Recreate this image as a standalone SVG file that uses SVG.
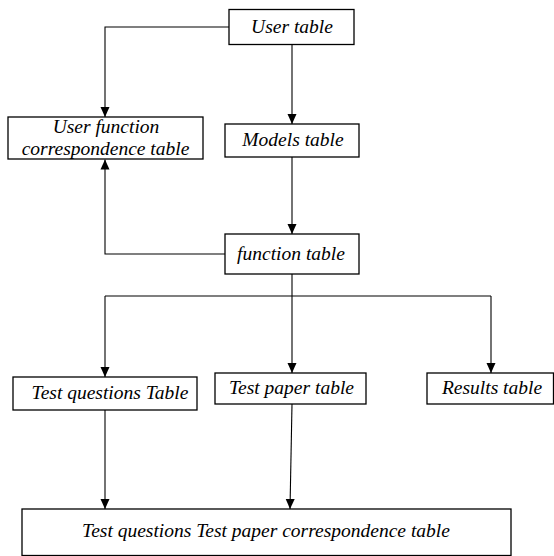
<svg xmlns="http://www.w3.org/2000/svg" width="554" height="556" viewBox="0 0 554 556">
<defs>
<marker id="ah" markerWidth="10" markerHeight="10" refX="10" refY="5" orient="auto" markerUnits="userSpaceOnUse">
<path d="M0,0.5 L10,5 L0,9.5 Z" fill="#000"/>
</marker>
<style>
.box{fill:#fff;stroke:#000;stroke-width:1.3}
.lbl{font-family:"Liberation Serif","Times New Roman",serif;font-style:italic;font-size:19.5px;fill:#000;text-anchor:middle}
.cn{fill:none;stroke:#000;stroke-width:1.1}
</style>
</defs>
<rect width="554" height="556" fill="#fff"/>
<g id="connectors">
<path class="cn" d="M229,27 H105 V117" marker-end="url(#ah)"/>
<path class="cn" d="M292,44 V124" marker-end="url(#ah)"/>
<path class="cn" d="M292,157 V234" marker-end="url(#ah)"/>
<path class="cn" d="M225,254 H105 V159.5" marker-end="url(#ah)"/>
<path class="cn" d="M292,274 V296"/>
<path class="cn" d="M105,296 H491"/>
<path class="cn" d="M105,296 V377" marker-end="url(#ah)"/>
<path class="cn" d="M292,296 V373" marker-end="url(#ah)"/>
<path class="cn" d="M491,296 V373" marker-end="url(#ah)"/>
<path class="cn" d="M105,410 V509" marker-end="url(#ah)"/>
<path class="cn" d="M292,404 L290,509" marker-end="url(#ah)"/>
</g>
<g id="user-table">
<rect class="box" x="229" y="9.5" width="125" height="35"/>
<text class="lbl" x="292" y="33">User table</text>
</g>
<g id="user-function-correspondence-table">
<rect class="box" x="8" y="117" width="195" height="42"/>
<text class="lbl" x="106" y="133">User function</text>
<text class="lbl" x="105.5" y="155">correspondence table</text>
</g>
<g id="models-table">
<rect class="box" x="225" y="124" width="134" height="33"/>
<text class="lbl" x="293" y="146">Models table</text>
</g>
<g id="function-table">
<rect class="box" x="225" y="234" width="134" height="40"/>
<text class="lbl" x="291" y="260">function table</text>
</g>
<g id="test-questions-table">
<rect class="box" x="13" y="377" width="184" height="33"/>
<text class="lbl" x="110" y="399">Test questions Table</text>
</g>
<g id="test-paper-table">
<rect class="box" x="215" y="373" width="151" height="31"/>
<text class="lbl" x="291.5" y="394">Test paper table</text>
</g>
<g id="results-table">
<rect class="box" x="427" y="373" width="126.5" height="31"/>
<text class="lbl" x="492" y="394">Results table</text>
</g>
<g id="test-questions-test-paper-correspondence-table">
<rect class="box" x="22" y="509" width="489" height="46.5"/>
<text class="lbl" x="266" y="537">Test questions Test paper correspondence table</text>
</g>
</svg>
